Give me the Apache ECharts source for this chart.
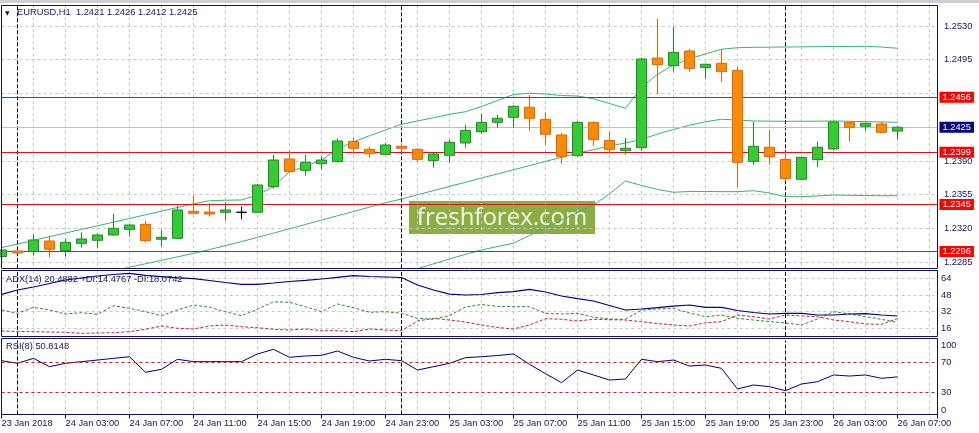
<!DOCTYPE html>
<html><head><meta charset="utf-8">
<script src="https://cdn.jsdelivr.net/npm/echarts@6/dist/echarts.min.js"></script>
<style>html,body{margin:0;padding:0;background:#fff}#c{width:979px;height:433px}</style>
</head><body><div id="c"></div>
<script>
// ---------------- DATA ----------------
const symbolName = 'EURUSD,H1';
const tickLabels = ['23 Jan 2018','24 Jan 03:00','24 Jan 07:00','24 Jan 11:00','24 Jan 15:00','24 Jan 19:00','24 Jan 23:00','25 Jan 03:00','25 Jan 07:00','25 Jan 11:00','25 Jan 15:00','25 Jan 19:00','25 Jan 23:00','26 Jan 03:00','26 Jan 07:00'];
const tickStep = 4;            // one label every 4 hourly bars
const daySeparators = [1, 25, 49]; // bars at 00:00

const opens  = [1.22908,1.22967,1.22960,1.23070,1.22970,1.23046,1.23077,1.23133,1.23191,1.23243,1.23088,1.23098,1.23378,1.23371,1.23368,1.23368,1.23368,1.23634,1.23921,1.23803,1.23872,1.23893,1.24101,1.24021,1.23969,1.24052,1.24021,1.23904,1.23959,1.24087,1.24204,1.24301,1.24353,1.24457,1.24332,1.24170,1.23955,1.24301,1.24114,1.24007,1.24038,1.24968,1.24889,1.25041,1.24868,1.24913,1.24840,1.23897,1.24042,1.23917,1.23710,1.23914,1.24025,1.24301,1.24260,1.24284,1.2421];
const closes = [1.22977,1.22946,1.23081,1.22984,1.23057,1.23091,1.23133,1.23202,1.23236,1.23074,1.23108,1.23392,1.23357,1.23350,1.23392,1.23368,1.23651,1.23910,1.23790,1.23886,1.23910,1.24108,1.24032,1.23976,1.24066,1.24032,1.23917,1.23973,1.24094,1.24218,1.24301,1.24343,1.24467,1.24343,1.24177,1.23945,1.24301,1.24121,1.24018,1.24032,1.24958,1.24899,1.25027,1.24861,1.24903,1.24827,1.23886,1.24052,1.23945,1.23717,1.23938,1.24042,1.24305,1.24246,1.24291,1.24197,1.2425];
const lows   = [1.22901,1.22943,1.22918,1.22901,1.22908,1.23001,1.22994,1.23126,1.23115,1.23057,1.23012,1.23091,1.23347,1.23323,1.23281,1.23295,1.23364,1.23617,1.23783,1.23748,1.23814,1.23886,1.23969,1.23935,1.23962,1.23997,1.23893,1.23831,1.23883,1.24038,1.24184,1.24246,1.24246,1.24215,1.24066,1.23872,1.23945,1.24059,1.23976,1.23966,1.24007,1.24591,1.24827,1.24827,1.24751,1.24720,1.23624,1.23862,1.23862,1.23689,1.23707,1.23838,1.24014,1.24101,1.24215,1.24194,1.2412];
const highs  = [1.22988,1.22970,1.23140,1.23122,1.23098,1.23160,1.23147,1.23351,1.23243,1.23278,1.23184,1.23437,1.23544,1.23461,1.23472,1.23427,1.23662,1.23962,1.24007,1.23962,1.23945,1.24135,1.24142,1.24045,1.24087,1.24083,1.24032,1.23987,1.24118,1.24273,1.24388,1.24377,1.24481,1.24585,1.24405,1.24194,1.24312,1.24308,1.24204,1.24139,1.24972,1.25373,1.25293,1.25065,1.24910,1.25058,1.24875,1.24308,1.24222,1.23997,1.23942,1.24101,1.24312,1.24308,1.24298,1.24308,1.2426];

const bbUpper  = [1.23001,1.23039,1.23077,1.23115,1.23153,1.23191,1.23228,1.23266,1.23304,1.23342,1.23380,1.23418,1.23455,1.23488,1.23493,1.23496,1.23547,1.23634,1.23789,1.23845,1.23910,1.24025,1.24100,1.24162,1.24222,1.24281,1.24315,1.24349,1.24384,1.24411,1.24465,1.24527,1.24590,1.24602,1.24595,1.24579,1.24574,1.24546,1.24496,1.24447,1.24662,1.24799,1.24896,1.24958,1.25011,1.25059,1.25075,1.25079,1.25081,1.25082,1.25084,1.25086,1.25087,1.25088,1.25089,1.25082,1.25069];
const bbMiddle = [null,null,null,null,null,null,null,1.22762,1.22798,1.22834,1.22870,1.22906,1.22942,1.22981,1.23023,1.23064,1.23108,1.23152,1.23197,1.23242,1.23287,1.23332,1.23376,1.23421,1.23467,1.23506,1.23550,1.23593,1.23637,1.23679,1.23723,1.23766,1.23809,1.23852,1.23896,1.23938,1.23983,1.24017,1.24056,1.24087,1.24123,1.24180,1.24227,1.24271,1.24307,1.24333,1.24325,1.24315,1.24313,1.24312,1.24312,1.24313,1.24315,1.24312,1.24308,1.24305,1.24301];
const bbLower  = [null,null,null,null,null,null,null,null,null,null,null,null,null,null,null,null,null,null,null,null,null,null,null,null,1.22684,1.22733,1.22783,1.22833,1.22883,1.22933,1.22977,1.23013,1.23047,1.23128,1.23205,1.23288,1.23366,1.23444,1.23558,1.23693,1.23646,1.23605,1.23575,1.23584,1.23584,1.23582,1.23582,1.23592,1.23568,1.23530,1.23530,1.23537,1.23547,1.23544,1.23541,1.23540,1.23540];

const levels = [1.2456, 1.2399, 1.2345, 1.2296];
const bidPrice = 1.2425;
const priceTickMin = 1.2285, priceTickMax = 1.2530, priceTickStep = 0.0035;
const hiddenPriceTicks = [1.2460, 1.2425];

const adx     = [40.96,45.02,47.85,51.15,54.45,56.34,58.23,59.64,60.77,58.79,57.66,56.53,55.68,53.98,52.09,50.40,50.40,51.62,53.04,54.17,55.40,57.00,58.51,57.75,57.28,56.81,49.74,45.02,41.06,40.30,40.77,42.47,43.51,45.68,43.13,39.36,36.81,34.64,30.40,26.15,27.09,28.32,29.74,30.87,28.70,28.70,25.68,23.79,22.38,23.04,23.04,21.43,21.43,22.38,22.66,21.43,20.4882];
const plusDI  = [26.15,23.04,28.70,26.15,22.38,23.60,22.09,30.21,27.75,24.55,20.77,26.15,30.87,28.70,24.55,20.77,26.81,33.98,33.41,29.26,24.55,31.81,28.32,23.98,24.55,23.04,18.32,17.38,20.96,28.98,31.34,29.64,29.26,29.26,23.04,22.38,23.04,19.26,17.66,17.38,26.15,27.09,27.57,23.32,19.83,21.43,18.32,16.72,15.30,13.89,12.00,17.66,24.55,22.38,19.83,17.38,14.4767];
const minusDI = [6.34,5.87,5.68,5.40,5.11,4.17,4.45,4.74,5.68,7.94,11.06,8.89,8.23,11.06,12.00,10.40,9.45,7.94,7.28,8.23,6.62,6.62,5.68,8.23,7.28,6.62,15.77,18.32,16.72,14.83,12.00,9.64,8.23,12.00,17.94,17.38,15.77,17.38,17.00,16.72,15.11,13.41,12.00,11.06,14.17,15.11,21.43,19.83,17.66,21.43,20.49,19.83,16.72,15.11,12.94,12.66,18.0742];
const adxLabelTicks = [16, 32, 48, 64];

const rsi = [72.7,69.2,75.9,64.6,69.2,71.4,73.6,75.9,78.1,57.0,61.1,74.6,71.4,71.4,71.4,71.4,81.8,88.1,77.3,79.1,80.0,85.8,77.3,72.3,74.6,72.7,60.1,64.6,69.2,76.8,78.1,79.7,81.8,67.8,55.1,43.0,60.1,53.4,46.6,48.0,74.6,71.4,73.6,65.5,66.9,62.4,34.5,39.9,37.6,32.2,41.2,44.3,53.4,52.0,53.4,48.9,50.8148];
const rsiLevels = [70, 30];
const rsiLabelTicks = [0, 30, 70, 100];

// ---------------- CHART ----------------
const FONT = "'Liberation Sans', Arial, sans-serif";
const FS = 9.3;
const NAVY = '#141464';
const GRIDC = '#c8c8c8';
const LEVELC = '#d01818';
const last = opens.length - 1;
const f4 = v => v.toFixed(4);
const headerText = symbolName + '  ' + f4(opens[last]) + ' ' + f4(highs[last]) + ' ' + f4(lows[last]) + ' ' + f4(closes[last]);
const adxHeader = 'ADX(14) ' + adx[last].toFixed(4) + ' +DI:' + plusDI[last].toFixed(4) + ' -DI:' + minusDI[last].toFixed(4);
const rsiHeader = 'RSI(8) ' + rsi[last].toFixed(4);

const pts = arr => arr.map((v, i) => [i, v == null ? '-' : v]);
const candleData = opens.map((o, i) => [i, o, closes[i], lows[i], highs[i]]);

const X_MIN = 0, X_MAX = 58.5;
function xAx(gridIndex, extra) {
  return Object.assign({
    type: 'value', gridIndex, min: X_MIN, max: X_MAX,
    axisLine: {show: false}, axisTick: {show: false}, axisLabel: {show: false},
    splitLine: {show: false}
  }, extra || {});
}
const vSplit = {show: true, lineStyle: {color: GRIDC, width: 1, type: [3, 3]}};

const sepLines = daySeparators.map(x => ({xAxis: x, lineStyle: {color: '#000', width: 1, opacity: 1, type: [4, 2]}, label: {show: false}}));
const boxLabel = (bg) => ({
  show: true, position: 'end', distance: 2, formatter: p => f4(p.value),
  color: '#fff', backgroundColor: bg, padding: [1, 3, 0, 3], fontSize: FS, lineHeight: 10, fontFamily: FONT
});

const gridBase = {left: 1.5, width: 936, outerBoundsMode: 'none', containLabel: false, show: false};

const option = {
  animation: false,
  backgroundColor: '#ffffff',
  textStyle: {fontFamily: FONT},
  title: [
    {text: '▼', left: 5, top: 10, padding: 0, textStyle: {fontSize: 6, color: NAVY, fontWeight: 'normal', fontFamily: "'DejaVu Sans'"}},
    {text: headerText, left: 17, top: 8, padding: 0, textStyle: {fontSize: FS, color: NAVY, fontWeight: 'normal', fontFamily: FONT}},
    {text: adxHeader, left: 6, top: 274.5, padding: 0, textStyle: {fontSize: FS, color: NAVY, fontWeight: 'normal', fontFamily: FONT}},
    {text: rsiHeader, left: 6, top: 342, padding: 0, textStyle: {fontSize: FS, color: NAVY, fontWeight: 'normal', fontFamily: FONT}}
  ],
  grid: [
    Object.assign({}, gridBase, {top: 5, height: 263.3}),      // 0 price data
    Object.assign({}, gridBase, {top: 26, height: 236.25}),    // 1 price scale
    Object.assign({}, gridBase, {top: 270, height: 66}),       // 2 adx data
    Object.assign({}, gridBase, {top: 278.5, height: 49.8}),   // 3 adx scale
    Object.assign({}, gridBase, {top: 340.5, height: 74})      // 4 rsi
  ],
  xAxis: [
    xAx(0, {interval: 2, splitLine: vSplit}),
    xAx(1, {show: false}),
    xAx(2, {interval: 2, splitLine: vSplit}),
    xAx(3, {show: false}),
    xAx(4, {interval: 2, splitLine: vSplit}),
    xAx(4, {interval: tickStep, position: 'bottom',
      axisTick: {show: true, length: 4, lineStyle: {color: NAVY}},
      axisLabel: {show: true, align: 'left', margin: 4, color: NAVY, fontSize: FS, fontFamily: FONT,
        formatter: v => { const k = Math.round(v / tickStep); return (Math.abs(v - k * tickStep) < 1e-6 && tickLabels[k]) ? tickLabels[k] : ''; }}})
  ],
  yAxis: [
    {type: 'value', gridIndex: 0, min: 1.22787, max: 1.25518, show: false, splitLine: {show: false}},
    {type: 'value', gridIndex: 1, position: 'right', min: priceTickMin, max: priceTickMax, interval: priceTickStep,
      axisLine: {show: false}, axisTick: {show: false},
      splitLine: {show: true, lineStyle: {color: GRIDC, width: 1, type: [3, 3]}},
      axisLabel: {margin: 6.5, color: NAVY, fontSize: FS, fontFamily: FONT,
        formatter: v => { const r = Math.round(v * 10000) / 10000; return hiddenPriceTicks.some(h => Math.abs(h - r) < 1e-6) ? '' : r.toFixed(4); }}},
    {type: 'value', gridIndex: 2, min: 1.62, max: 63.89, show: false, splitLine: {show: false}},
    {type: 'value', gridIndex: 3, position: 'right', min: adxLabelTicks[0], max: adxLabelTicks[adxLabelTicks.length - 1], interval: 16,
      axisLine: {show: false}, axisTick: {show: false},
      splitLine: {show: true, lineStyle: {color: GRIDC, width: 1, type: [3, 3]}},
      axisLabel: {margin: 3.5, color: NAVY, fontSize: FS, fontFamily: FONT}},
    {type: 'value', gridIndex: 4, position: 'right', min: 0, max: 100, interval: 10,
      axisLine: {show: false}, axisTick: {show: false}, splitLine: {show: false},
      axisLabel: {margin: 3.5, color: NAVY, fontSize: FS, fontFamily: FONT,
        verticalAlignMinLabel: 'bottom', verticalAlignMaxLabel: 'top',
        formatter: v => rsiLabelTicks.includes(Math.round(v)) ? String(Math.round(v)) : ''}}
  ],
  series: [
    {type: 'line', name: 'BB upper', xAxisIndex: 0, yAxisIndex: 0, data: pts(bbUpper), symbol: 'none', z: 2,
      lineStyle: {color: '#3cb371', width: 1}, silent: true,
      markLine: {silent: true, symbol: 'none', animation: false, precision: 5,
        data: [
          ...sepLines,
          {yAxis: bidPrice, lineStyle: {color: '#c0c0c0', width: 1, opacity: 1, type: 'solid'}, label: boxLabel('#000080')},
          ...levels.map(v => ({yAxis: v, lineStyle: {color: LEVELC, width: 1, opacity: 1, type: 'solid'}, label: boxLabel('#ff0000')}))
        ]}},
    {type: 'line', name: 'BB middle', xAxisIndex: 0, yAxisIndex: 0, data: pts(bbMiddle), symbol: 'none', z: 2,
      lineStyle: {color: '#3cb371', width: 1}, silent: true},
    {type: 'line', name: 'BB lower', xAxisIndex: 0, yAxisIndex: 0, data: pts(bbLower), symbol: 'none', z: 2,
      lineStyle: {color: '#3cb371', width: 1}, silent: true},
    {type: 'candlestick', name: symbolName, xAxisIndex: 0, yAxisIndex: 0, data: candleData, barWidth: 10, z: 6, clip: true,
      itemStyle: {color: '#33cc33', color0: '#ff8c00', borderColor: '#22882a', borderColor0: '#e0660a', borderColorDoji: '#000000', borderWidth: 1}},
    {type: 'line', name: '-DI', xAxisIndex: 2, yAxisIndex: 2, data: pts(minusDI), symbol: 'none', z: 3,
      lineStyle: {color: '#cc2222', width: 1, type: [3, 2]}, silent: true,
      markLine: {silent: true, symbol: 'none', animation: false, precision: 5, data: sepLines}},
    {type: 'line', name: '+DI', xAxisIndex: 2, yAxisIndex: 2, data: pts(plusDI), symbol: 'none', z: 3,
      lineStyle: {color: '#2e8b2e', width: 1, type: [3, 2]}, silent: true},
    {type: 'line', name: 'ADX', xAxisIndex: 2, yAxisIndex: 2, data: pts(adx), symbol: 'none', z: 4,
      lineStyle: {color: '#000080', width: 1.2}, silent: true},
    {type: 'line', name: 'RSI', xAxisIndex: 4, yAxisIndex: 4, data: pts(rsi), symbol: 'none', z: 4,
      lineStyle: {color: '#000080', width: 1}, silent: true,
      markLine: {silent: true, symbol: 'none', animation: false, precision: 5,
        data: [...rsiLevels.map(v => ({yAxis: v, lineStyle: {color: '#cc2222', width: 1, type: [3, 3]}, label: {show: false}})), ...sepLines]}}
  ],
  graphic: [
    {type: 'rect', shape: {x: 0, y: 0, width: 979, height: 3}, style: {fill: '#cfcfcf'}, silent: true, z: 10},
    {type: 'rect', shape: {x: 1.5, y: 5.5, width: 936, height: 263}, style: {fill: 'none', stroke: '#141450', lineWidth: 1}, silent: true, z: 10},
    {type: 'rect', shape: {x: 1.5, y: 270.5, width: 936, height: 66}, style: {fill: 'none', stroke: '#141450', lineWidth: 1}, silent: true, z: 10},
    {type: 'rect', shape: {x: 1.5, y: 338.5, width: 936, height: 76}, style: {fill: 'none', stroke: '#141450', lineWidth: 1}, silent: true, z: 10},
    {type: 'group', z: 20, silent: true, children: [
      {type: 'rect', shape: {x: 409, y: 201, width: 186, height: 33}, style: {fill: '#8cad3f'}},
      {type: 'text', x: 502, y: 218, style: {text: 'freshforex.com', fill: '#f4f7ee', font: "24px 'Open Sans'", textAlign: 'center', textVerticalAlign: 'middle', align: 'center', verticalAlign: 'middle'}}
    ]}
  ]
};

const chart = echarts.init(document.getElementById('c'), null, {renderer: 'canvas'});
chart.setOption(option);
</script>
</body></html>
